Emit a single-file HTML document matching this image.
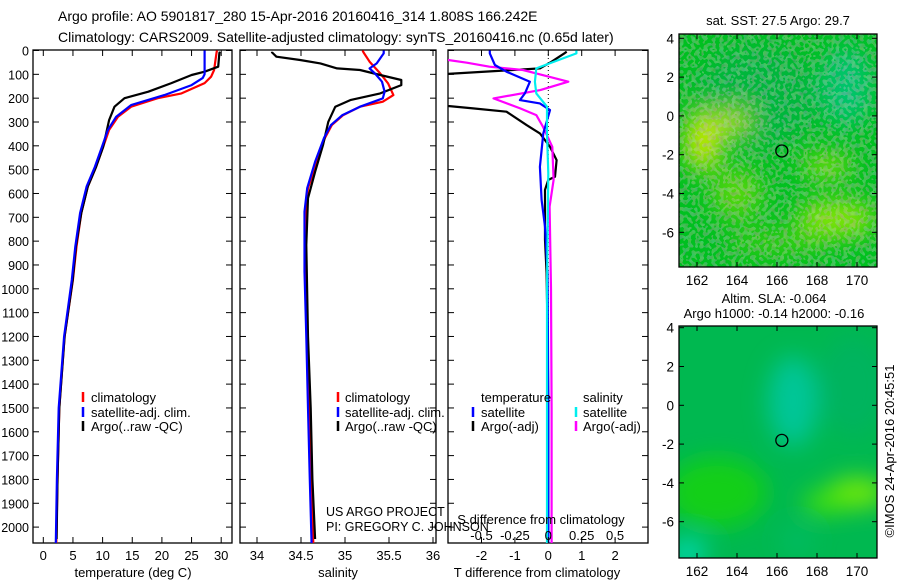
<!DOCTYPE html>
<html><head><meta charset="utf-8"><style>
html,body{margin:0;padding:0;background:#fff;}
svg{display:block;font-family:"Liberation Sans",sans-serif;}
</style></head><body>
<svg id="chart" width="900" height="580" viewBox="0 0 900 580">
<defs>
<clipPath id="c1"><rect x="33" y="50" width="199" height="493"/></clipPath>
<clipPath id="c2"><rect x="240" y="50" width="196" height="493"/></clipPath>
<clipPath id="c3"><rect x="448" y="50" width="200" height="493"/></clipPath>
<filter id="blur12"><feGaussianBlur stdDeviation="12"/></filter>
<filter id="noise"><feTurbulence type="fractalNoise" baseFrequency="0.25" numOctaves="1" seed="3"/><feComponentTransfer><feFuncA type="discrete" tableValues="0 0 0.35 0"/></feComponentTransfer></filter>
</defs>
<g font-size="14">
<text x="58" y="21">Argo profile: AO 5901817_280 15-Apr-2016 20160416_314 1.808S 166.242E</text>
<text x="58" y="42">Climatology: CARS2009. Satellite-adjusted climatology: synTS_20160416.nc (0.65d later)</text>
</g>
<g id="panels"></g>
<g id="maps"></g>
</svg>
<script>
// ---------- data ----------
const tDepthClim = [0,10,82,110,137,180,200,236,278,333,404,488,571,682,823,963,1200,1500,1800,2070];
const tempClim   = [29.3,29.2,28.8,28.3,27.2,23.3,19.3,14.8,12.6,11.1,10.1,8.9,7.5,6.4,5.6,5.0,3.6,2.7,2.4,2.2];
const tDepthSat  = [0,10,100,115,145,187,229,278,333,404,488,571,682,823,963,1200,1500,1800,2070];
const tempSat    = [27.2,27.2,27.2,26.9,25.0,20.4,14.8,12.3,10.9,9.9,8.7,7.3,6.2,5.4,4.8,3.5,2.6,2.3,2.1];
const tDepthArgo = [5,10,68,89,103,137,173,200,236,292,404,488,571,682,823,963,1200,1500,1800,2050];
const tempArgo   = [29.8,29.7,29.5,27.2,25.0,21.6,17.7,13.7,12.0,11.1,10.1,8.9,7.5,6.4,5.5,4.95,3.6,2.7,2.4,2.25];

const sDepthClim = [0,8,47,96,138,187,215,236,271,313,368,467,578,676,928,1200,1500,1800,2070];
const salClim    = [35.2,35.21,35.28,35.40,35.49,35.55,35.43,35.17,34.98,34.85,34.77,34.68,34.58,34.55,34.55,34.57,34.6,34.62,34.64];
const sDepthSat  = [0,12,54,75,96,131,173,201,236,271,313,368,467,578,676,928,1200,1500,1800,2070];
const salSat     = [35.44,35.44,35.36,35.28,35.34,35.42,35.45,35.43,35.17,34.97,34.84,34.76,34.66,34.57,34.54,34.54,34.56,34.58,34.6,34.62];
const sDepthArgo = [5,8,26,40,54,75,82,103,124,145,180,208,236,299,397,509,620,816,1200,1500,1800,2050];
const salArgo    = [34.17,34.17,34.22,34.49,34.72,34.91,35.17,35.40,35.64,35.64,35.40,35.06,34.89,34.81,34.75,34.66,34.58,34.56,34.58,34.61,34.63,34.66];

const dDepthT = [5,10,47,75,100,137,180,220,233,243,257,313,348,404,460,530,543,585,795,934,1200,1500,2050];
const tDiffArgo = [0.55,0.5,0.1,-0.25,-3.2,-5,-5,-3.5,-3.0,-2.25,-1.25,-0.65,-0.25,0.05,0.25,0.2,0,-0.1,-0.1,-0.05,-0.02,0,0];
const dDepthTS = [0,12,61,89,131,180,208,222,250,348,488,627,739,935,1500,2070];
const tDiffSat = [-1.75,-1.75,-1.6,-1.25,-0.55,-0.7,-0.85,-0.25,0.05,-0.15,-0.25,-0.2,-0.1,-0.02,0,0];
const dDepthSA = [5,8,26,40,51,68,82,96,131,166,201,243,271,320,404,543,655,1000,1500,2070];
const sDiffArgo = [-1.04,-1.04,-0.95,-0.75,-0.61,-0.44,-0.19,-0.09,0.15,-0.06,-0.41,-0.21,-0.09,-0.04,0.03,0.04,0.01,0.02,0.025,0.025];
const dDepthSS = [0,12,54,75,131,180,236,348,515,1000,1500,2070];
const sDiffSat = [0.21,0.21,0.01,-0.09,-0.1,-0.09,-0.01,-0.01,0,-0.01,-0.01,-0.01];

const depthTicks = [0,100,200,300,400,500,600,700,800,900,1000,1100,1200,1300,1400,1500,1600,1700,1800,1900,2000];
const tempTicks = [0,5,10,15,20,25,30];
const salTicks = [34,34.5,35,35.5,36];
const tDiffTicks = [-2,-1,0,1,2];
const sDiffTicks = [-0.5,-0.25,0,0.25,0.5];
const lonTicks = [162,164,166,168,170];
const latTicks = [4,2,0,-2,-4,-6];
const argoLon = 166.242, argoLat = -1.808;

// ---------- scales ----------
const yD = d => 50.5 + d*0.2383;
const xT = t => 43.3 + t*5.93;
const xS = s => 257 + (s-34)*88;
const xTD = t => 548.3 + t*33.4;
const xSD = s => 548.3 + s*133.6;
const xLon = l => 697 + (l-162)*20;
const yLat1 = a => 38.3 + (4-a)*19.4;
const yLat2 = a => 327.7 + (4-a)*19.4;

const NS="http://www.w3.org/2000/svg";
function mk(tag, attrs, parent){const e=document.createElementNS(NS,tag);for(const k in attrs)e.setAttribute(k,attrs[k]);parent.appendChild(e);return e;}
const P=document.getElementById('panels');

function panel(x,w,name,clip){
  const g=mk('g',{},P);
  
  
  const r=mk('rect',{x:x,y:50,width:w,height:493,fill:'none',stroke:'#000','stroke-width':1.3},g);
  
  
  depthTicks.forEach(d=>{
    mk('line',{x1:x,x2:x+6,y1:yD(d),y2:yD(d),stroke:'#000'},g);
    mk('line',{x1:x+w-6,x2:x+w,y1:yD(d),y2:yD(d),stroke:'#000'},g);
  });
  const lines=mk('g',{'clip-path':'url(#'+clip+')'},g);
  return {g,lines};
}
function series(parent, depths, vals, xf, color, name, sw){
  let d='';
  depths.forEach((dp,i)=>{d+=(i?'L':'M')+xf(vals[i]).toFixed(1)+','+yD(dp).toFixed(1);});
  const p=mk('path',{d:d,fill:'none',stroke:color,'stroke-width':sw||2.2,'stroke-linejoin':'round'},parent);
  
  
}
function text(g,x,y,s,size,anchor,name){
  const t=mk('text',{x:x,y:y,'font-size':size||13,'text-anchor':anchor||'start'},g);
  t.textContent=s;
  
  
  return t;
}
function xticks(g,ticks,xf,labelY){
  ticks.forEach(t=>{
    mk('line',{x1:xf(t),x2:xf(t),y1:50,y2:56,stroke:'#000'},g);
    mk('line',{x1:xf(t),x2:xf(t),y1:537,y2:543,stroke:'#000'},g);
    if(labelY) text(g,xf(t),labelY,String(t),13,'middle','x-tick-label');
  });
}
function legendItem(g,mx,tx,y,color,label){
  const l=mk('line',{x1:mx,x2:mx,y1:y-5,y2:y+5,stroke:color,'stroke-width':2.5},g);
  
  
  text(g,tx,y+5,label,13,'start','legend-entry');
}

// depth axis labels
const yl=mk('g',{},P);


depthTicks.forEach(d=>{ text(yl,29,yD(d)+5,String(d),12.5,'end','y-tick-label'); });

// panel 1: temperature
const p1=panel(33,199,'temperature-panel','c1');
xticks(p1.g,tempTicks,xT,560);
text(p1.g,133,577,'temperature (deg C)',13,'middle','x-axis-title');
series(p1.lines,tDepthClim,tempClim,xT,'#f00','temp-climatology-line');
series(p1.lines,tDepthArgo,tempArgo,xT,'#000','temp-argo-line');
series(p1.lines,tDepthSat,tempSat,xT,'#00f','temp-satellite-line');
legendItem(p1.g,83,91,397,'#f00','climatology');
legendItem(p1.g,83,91,412,'#00f','satellite-adj. clim.');
legendItem(p1.g,83,91,426,'#000','Argo(..raw -QC)');

// panel 2: salinity
const p2=panel(240,196,'salinity-panel','c2');
xticks(p2.g,salTicks,xS,560);
text(p2.g,338,577,'salinity',13,'middle','x-axis-title');
series(p2.lines,sDepthClim,salClim,xS,'#f00','sal-climatology-line');
series(p2.lines,sDepthArgo,salArgo,xS,'#000','sal-argo-line');
series(p2.lines,sDepthSat,salSat,xS,'#00f','sal-satellite-line');
legendItem(p2.g,338,345,397,'#f00','climatology');
legendItem(p2.g,338,345,412,'#00f','satellite-adj. clim.');
legendItem(p2.g,338,345,426,'#000','Argo(..raw -QC)');

// panel 3: differences
const p3=panel(448,200,'difference-panel','c3');
xticks(p3.g,tDiffTicks,xTD,560);
text(p3.g,537,577,'T difference from climatology',13,'middle','x-axis-title');
mk('line',{x1:xTD(0),x2:xTD(0),y1:50,y2:543,stroke:'#000','stroke-dasharray':'1,3'},p3.lines);
series(p3.lines,dDepthT,tDiffArgo,xTD,'#000','tdiff-argo-line');
series(p3.lines,dDepthSA,sDiffArgo,xSD,'#f0f','sdiff-argo-line');
series(p3.lines,dDepthTS,tDiffSat,xTD,'#00f','tdiff-satellite-line');
series(p3.lines,dDepthSS,sDiffSat,xSD,'#0ee','sdiff-satellite-line');
sDiffTicks.forEach(s=>{ text(p3.g,xSD(s),540,String(s),13,'middle','s-diff-tick-label'); });
text(p3.g,541,524,'S difference from climatology',13,'middle','s-axis-title');
text(p3.g,481,402,'temperature',13,'start','legend-title');
text(p3.g,583,402,'salinity',13,'start','legend-title');
legendItem(p3.g,473,481,412,'#00f','satellite');
legendItem(p3.g,473,481,426,'#000','Argo(-adj)');
legendItem(p3.g,576,583,412,'#0ee','satellite');
legendItem(p3.g,576,583,426,'#f0f','Argo(-adj)');
text(P,326,516,'US ARGO PROJECT',12.5,'start','credit-project');
text(P,326,531,'PI: GREGORY C. JOHNSON',12.5,'start','credit-pi');

// ---------- maps ----------
const M=document.getElementById('maps');
function map(top,bottom,yLat,name,blobs,base){
  const g=mk('g',{},M);
  
  
  const cid='mc'+top;
  const cp=mk('clipPath',{id:cid},g); mk('rect',{x:679,y:top,width:198,height:bottom-top},cp);
  const inner=mk('g',{'clip-path':'url(#'+cid+')'},g);
  mk('rect',{x:679,y:top,width:198,height:bottom-top,fill:base},inner);
  const bg=mk('g',{filter:'url(#blur12)'},inner);
  blobs.forEach(b=>mk('ellipse',{cx:xLon(b[0]),cy:yLat(b[1]),rx:b[2],ry:b[3],fill:b[4],opacity:b[5]||1},bg));
  const fr=mk('rect',{x:679,y:top,width:198,height:bottom-top,fill:'none',stroke:'#000','stroke-width':1.3},g);
  
  
  lonTicks.forEach(l=>{
    mk('line',{x1:xLon(l),x2:xLon(l),y1:top,y2:top+5,stroke:'#000'},g);
    mk('line',{x1:xLon(l),x2:xLon(l),y1:bottom-5,y2:bottom,stroke:'#000'},g);
    text(g,xLon(l),bottom+18,String(l),13.5,'middle','lon-tick-label');
  });
  latTicks.forEach(a=>{
    mk('line',{x1:679,x2:684,y1:yLat(a),y2:yLat(a),stroke:'#000'},g);
    mk('line',{x1:872,x2:877,y1:yLat(a),y2:yLat(a),stroke:'#000'},g);
    text(g,674,yLat(a)+5,String(a),13.5,'end','lat-tick-label');
  });
  const c=mk('circle',{cx:xLon(argoLon),cy:yLat(argoLat),r:6,fill:'none',stroke:'#000','stroke-width':1.3},g);
  
  
  return inner;
}
const m1=map(34,267,yLat1,'sst-map',[
  [165,1,60,50,'#00b050',0.6],[169.5,1.5,25,40,'#00c8a0',0.6],
  [162.3,-1.3,18,30,'#d8f000',0.9],[163.8,-0.3,16,12,'#d8f000',0.8],
  [164,-4,25,25,'#90e800',0.6],[168.5,-2.6,25,10,'#b0f000',0.8],
  [169,-5.3,40,18,'#a8f000',0.8],[166,-6.5,50,12,'#70e000',0.5]
],'#00c020');
mk('rect',{x:679,y:34,width:198,height:233,filter:'url(#noise)',fill:'#00a050'},m1);
const m2=map(326,558,yLat2,'sla-map',[
  [166.8,0.2,25,45,'#00c8a0',0.9],[169.8,1,35,50,'#00b068',0.6],
  [163,-4.5,50,35,'#20d800',0.7],[170,-4.5,30,15,'#80f000',0.9],[168.5,-5,25,12,'#50e800',0.8],
  [161.5,-7.6,20,14,'#00d8b0',1],[167,-7,15,15,'#00c070',0.6]
],'#00b850');
text(M,778,25,'sat. SST: 27.5 Argo: 29.7',13,'middle','sst-map-title');
text(M,774,303,'Altim. SLA: -0.064',13,'middle','sla-map-title');
text(M,774,318,'Argo h1000: -0.14 h2000: -0.16',13,'middle','sla-map-subtitle');
const ts=text(M,0,0,'©IMOS 24-Apr-2016 20:45:51',13,'middle','timestamp');
ts.setAttribute('transform','translate(894,451) rotate(-90)');
</script>
</body></html>
